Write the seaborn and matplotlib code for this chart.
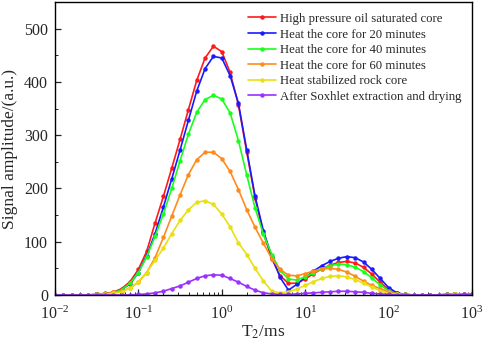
import numpy as np
import pandas as pd
import matplotlib
matplotlib.use("Agg")
import matplotlib.pyplot as plt
import seaborn as sns

# T2 relaxation grid (ms), log spaced from 10^-2 to 10^3
t2 = 10 ** np.round(np.arange(-2.0, 3.01, 0.1), 1)

labels = [
    "High pressure oil saturated core",
    "Heat the core for 20 minutes",
    "Heat the core for 40 minutes",
    "Heat the core for 60 minutes",
    "Heat stabilized rock core",
    "After Soxhlet extraction and drying",
]
colors = ["#ff1a1a", "#1a1aff", "#1aff1a", "#ff8c1a", "#e8e010", "#9b30ff"]

oil_saturated = [0, 0, 0, 0, 0,
                 1, 3, 5, 12, 25, 48, 82, 135, 185, 238, 292, 348, 403, 445, 467,
                 457, 418, 357, 268, 182, 116, 68, 36, 22, 22,
                 30, 40, 49, 56, 61, 63, 60, 52, 39, 24,
                 10, 3, 1, 0, 0, 0, 0, 1, 1, 2, 2]
heat_20 = [0, 0, 0, 0, 0,
           1, 2, 4, 10, 21, 42, 74, 115, 165, 218, 272, 328, 383, 425, 448,
           445, 412, 360, 272, 185, 120, 72, 33, 9, 20,
           33, 45, 55, 63, 69, 72, 70, 62, 48, 31,
           14, 4, 1, 0, 0, 0, 0, 1, 1, 2, 2]
heat_40 = [0, 0, 0, 0, 0,
           1, 2, 4, 10, 22, 42, 72, 110, 152, 200, 252, 302, 343, 367, 375,
           368, 342, 290, 225, 163, 114, 76, 46, 30, 28,
           34, 42, 49, 55, 58, 57, 52, 44, 32, 19,
           8, 2, 1, 0, 0, 0, 0, 1, 1, 2, 2]
heat_60 = [0, 0, 0, 0, 0,
           1, 2, 5, 7, 13, 24, 42, 70, 108, 148, 188, 226, 254, 268, 268,
           256, 232, 198, 160, 127, 97, 68, 48, 37, 36,
           40, 45, 49, 50, 48, 43, 35, 26, 18, 12,
           6, 2, 1, 0, 0, 0, 0, 1, 1, 1, 2]
stabilized = [0, 0, 0, 0, 0,
              0, 1, 3, 6, 13, 25, 42, 65, 88, 115, 140, 160, 174, 177, 170,
              152, 128, 98, 76, 50, 26, 7, 4, 6, 11,
              18, 25, 31, 35, 36, 34, 29, 22, 15, 8,
              3, 1, 0, 0, 0, 0, 0, 0, 1, 1, 1]
soxhlet = [0, 0, 0, 0, 0,
           0, 0, 0, 0, 0, 1, 2, 4, 7, 12, 17, 24, 31, 36, 38,
           37, 31, 24, 16, 9, 4, 2, 1, 1, 2,
           3, 4, 5, 6, 7, 7, 6, 5, 3, 2,
           1, 0, 0, 0, 0, 0, 0, 0, 0, 1, 1]

series = [oil_saturated, heat_20, heat_40, heat_60, stabilized, soxhlet]

sns.set_style("ticks")
plt.rcParams["font.family"] = ["Liberation Serif", "DejaVu Serif"]
plt.rcParams["mathtext.fontset"] = "stix"

fig = plt.figure(figsize=(4.84, 3.45), dpi=100)
ax = fig.add_axes([0.1136, 0.145, 0.8614, 0.849])

for lab, col, vals in zip(labels, colors, series):
    df = pd.DataFrame({"T2": t2, "amp": vals})
    sns.lineplot(data=df, x="T2", y="amp", ax=ax, color=col, label=lab,
                 marker="o", markersize=3.2, markeredgewidth=0, linewidth=1.2)

ax.set_xscale("log")
ax.set_xlim(1e-2, 1e3)
ax.set_ylim(0, 550)
ax.set_yticks([0, 100, 200, 300, 400, 500])
ax.set_yticks(np.arange(50, 550, 100), minor=True)
ax.tick_params(which="both", direction="in", labelsize=11.5, top=False, right=False)
ax.tick_params(which="major", length=4.5, width=0.9)
ax.tick_params(which="minor", length=2.5, width=0.7)
ax.tick_params(axis="x", which="major", pad=8)
ax.tick_params(axis="y", which="major", pad=5)
for sp in ax.spines.values():
    sp.set_linewidth(1.0)
    sp.set_color("black")

ax.set_xlabel("T$_2$/ms", fontsize=12.5, labelpad=0)
ax.set_ylabel("Signal amplitude/(a.u.)", fontsize=12.5, labelpad=4)

leg = ax.legend(loc="upper right", frameon=False, fontsize=9.2,
                handlelength=2.2, handletextpad=0.3, labelspacing=0.28,
                borderaxespad=0.45)

fig.savefig("out.png", dpi=100)
